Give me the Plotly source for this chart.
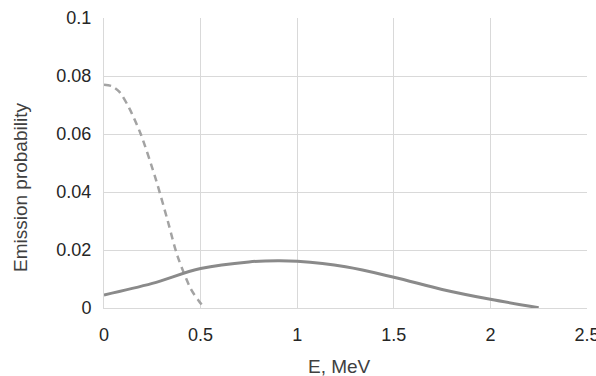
import plotly.graph_objects as go

# Solid curve (higher-energy spectrum)
e_solid = [0, 0.25, 0.5, 0.75, 0.9, 1.0, 1.25, 1.5, 1.75, 2.0, 2.25]
p_solid = [0.0045, 0.0085, 0.0136, 0.0159, 0.0163, 0.0161, 0.0142, 0.0106, 0.0064, 0.0030, 0.0001]

# Dashed curve (low-energy spectrum)
e_dash = [0, 0.04, 0.08, 0.13, 0.19, 0.27, 0.33, 0.38, 0.45, 0.49, 0.52]
p_dash = [0.077, 0.0765, 0.0745, 0.069, 0.060, 0.044, 0.030, 0.018, 0.0065, 0.0025, 0.0]

x_ticks = [0, 0.5, 1, 1.5, 2, 2.5]
y_ticks = [0, 0.02, 0.04, 0.06, 0.08, 0.1]
y_tick_text = ["0", "0.02", "0.04", "0.06", "0.08", "0.1"]
x_title = "E, MeV"
y_title = "Emission probability"

fig = go.Figure()
fig.add_trace(go.Scatter(x=e_dash, y=p_dash, mode="lines",
                         line=dict(color="#a3a3a3", width=2.5, dash="7px,5px", shape="spline", smoothing=0.8),
                         showlegend=False))
fig.add_trace(go.Scatter(x=e_solid, y=p_solid, mode="lines",
                         line=dict(color="#8a8a8a", width=3, shape="spline"),
                         showlegend=False))

font = "Liberation Sans, Arial, sans-serif"
fig.update_layout(
    width=596, height=376,
    margin=dict(l=104, r=9, t=18, b=68),
    plot_bgcolor="white", paper_bgcolor="white",
    font=dict(family=font, color="#404040", size=18),
    xaxis=dict(range=[0, 2.5], tickvals=x_ticks, ticktext=[str(v) for v in x_ticks],
               showgrid=True, gridcolor="#d9d9d9", gridwidth=1,
               zeroline=False, showline=True, linecolor="#d9d9d9", linewidth=1,
               ticks="", tickfont=dict(size=18, color="#262626"),
               ticklabeloverflow="allow", ticklabelstandoff=10, automargin=False),
    yaxis=dict(range=[0, 0.1], tickvals=y_ticks, ticktext=y_tick_text,
               showgrid=True, gridcolor="#d9d9d9", gridwidth=1,
               zeroline=False, showline=True, linecolor="#d9d9d9", linewidth=1,
               ticks="", tickfont=dict(size=18, color="#262626"),
               ticklabelstandoff=8, automargin=False),
    annotations=[
        dict(text=x_title, xref="paper", yref="paper", x=0.4886, y=-0.2,
             xanchor="center", yanchor="middle", showarrow=False,
             font=dict(size=19, color="#404040")),
        dict(text=y_title, xref="paper", yref="paper", x=-0.174, y=0.417,
             xanchor="center", yanchor="middle", showarrow=False, textangle=-90,
             font=dict(size=19, color="#404040")),
    ],
)
fig.write_html("out.html")
